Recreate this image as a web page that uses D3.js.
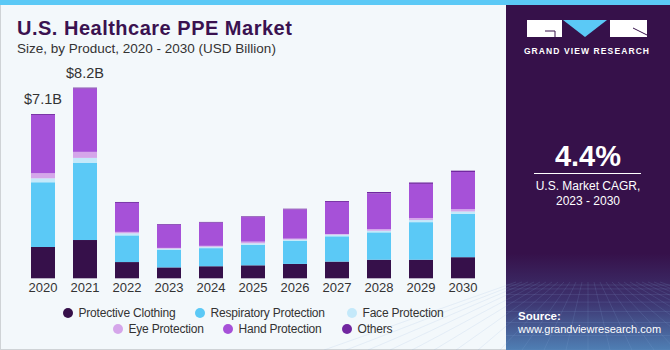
<!DOCTYPE html>
<html>
<head>
<meta charset="utf-8">
<script src="https://cdn.jsdelivr.net/npm/d3@7"></script>
<style>
  body { margin: 0; background: #fff; }
  svg { display: block; font-family: "Liberation Sans", Arial, sans-serif; }
</style>
</head>
<body>
<div id="chart"></div>
<script>
const width = 670
const height = 350

// data (USD Billion)
const years = ["2020","2021","2022","2023","2024","2025","2026","2027","2028","2029","2030"]
const protectiveClothing = [1.35, 1.65, 0.70, 0.47, 0.52, 0.56, 0.62, 0.72, 0.80, 0.80, 0.91]
const respiratory        = [2.79, 3.32, 1.15, 0.75, 0.78, 0.88, 0.99, 1.09, 1.18, 1.62, 1.87]
const faceProtection     = [0.17, 0.22, 0.09, 0.06, 0.06, 0.07, 0.06, 0.07, 0.07, 0.09, 0.10]
const eyeProtection      = [0.22, 0.26, 0.06, 0.03, 0.04, 0.07, 0.04, 0.03, 0.07, 0.09, 0.10]
const handProtection     = [2.51, 2.73, 1.25, 1.00, 1.00, 1.06, 1.26, 1.38, 1.54, 1.47, 1.60]
const others             = [0.04, 0.04, 0.04, 0.03, 0.03, 0.03, 0.03, 0.04, 0.06, 0.06, 0.06]
const seriesNames = ["Protective Clothing","Respiratory Protection","Face Protection","Eye Protection","Hand Protection","Others"]
const colors = ["#36104a","#5bc9f6","#c4e9fa","#d5a6ea","#a651d8","#7127a0"]
const valueLabels = [{year: "2020", text: "$7.1B"}, {year: "2021", text: "$8.2B"}]

const keys = ["pc","resp","face","eye","hand","others"]
const data = years.map((y, i) => ({
    year: y,
    pc: protectiveClothing[i],
    resp: respiratory[i],
    face: faceProtection[i],
    eye: eyeProtection[i],
    hand: handProtection[i],
    others: others[i]
}))

const svg = d3.select("#chart").append("svg").attr("width", width).attr("height", height)

// background + frame
svg.append("rect").attr("x",0).attr("y",0).attr("width",width).attr("height",height).attr("fill","#f3f8fb")
svg.append("rect").attr("x",0.5).attr("y",4).attr("width",506).attr("height",345.5)
    .attr("fill","none").attr("stroke","#cfd3d6")

// right panel
const defs = svg.append("defs")
const grad = defs.append("linearGradient").attr("id","panelGrad").attr("x1",0).attr("y1",0).attr("x2",0).attr("y2",1)
grad.append("stop").attr("offset","0%").attr("stop-color","#36114a")
grad.append("stop").attr("offset","72%").attr("stop-color","#36114a")
grad.append("stop").attr("offset","86%").attr("stop-color","#3d3470")
grad.append("stop").attr("offset","100%").attr("stop-color","#4f7fb4")

const panel = svg.append("g").attr("id","panel")
panel.append("rect").attr("x",506).attr("y",5).attr("width",164).attr("height",345).attr("fill","url(#panelGrad)")

// faint grid in the bottom of the panel
const grid = panel.append("g").attr("stroke","#8fb0dc").attr("stroke-opacity",0.25).attr("stroke-width",0.6).attr("fill","none")
for (let i = 0; i < 9; i++) {
    const yy = 285 + i * i * 0.9 + i * 3
    grid.append("line").attr("x1",506).attr("x2",670).attr("y1",yy).attr("y2",yy)
}
for (let i = -12; i <= 12; i++) {
    grid.append("line").attr("x1",588 + i * 6).attr("y1",282).attr("x2",588 + i * 22).attr("y2",350)
}

// logo
const logo = panel.append("g")
logo.append("rect").attr("x",527).attr("y",20).attr("width",35).attr("height",17).attr("fill","#fff")
logo.append("path").attr("d","M545,31 L555,31 L555,37").attr("stroke","#36114a").attr("stroke-width",1).attr("fill","none")
logo.append("path").attr("d","M563,20 L607,20 L585,37 Z").attr("fill","#5bc9f6")
logo.append("rect").attr("x",610).attr("y",20).attr("width",37).attr("height",17).attr("fill","#fff")
logo.append("path").attr("d","M633,28 L647,35").attr("stroke","#36114a").attr("stroke-width",1)
logo.append("text").attr("x",587).attr("y",54).attr("text-anchor","middle")
    .attr("fill","#fff").attr("font-size",8.5).attr("font-weight","bold").attr("letter-spacing",1.1)
    .text("GRAND VIEW RESEARCH")

panel.append("text").attr("x",588).attr("y",166).attr("text-anchor","middle")
    .attr("fill","#fff").attr("font-size",29).attr("font-weight","bold").text("4.4%")
panel.append("line").attr("x1",534).attr("x2",641).attr("y1",173.5).attr("y2",173.5).attr("stroke","#fff").attr("stroke-width",1)
panel.append("text").attr("x",588).attr("y",190).attr("text-anchor","middle")
    .attr("fill","#fff").attr("font-size",12).text("U.S. Market CAGR,")
panel.append("text").attr("x",588).attr("y",205).attr("text-anchor","middle")
    .attr("fill","#fff").attr("font-size",12).text("2023 - 2030")
panel.append("text").attr("x",518).attr("y",320)
    .attr("fill","#fff").attr("font-size",11.5).attr("font-weight","bold").text("Source:")
panel.append("text").attr("x",518).attr("y",333)
    .attr("fill","#fff").attr("font-size",11).text("www.grandviewresearch.com")

// top stripe
svg.append("rect").attr("x",0).attr("y",0).attr("width",width).attr("height",5).attr("fill","#5bc9f6")

// titles
svg.append("text").attr("x",17).attr("y",35).attr("fill","#3a1250")
    .attr("font-size",20).attr("font-weight","bold").attr("letter-spacing",0.5).text("U.S. Healthcare PPE Market")
svg.append("text").attr("x",17).attr("y",53).attr("fill","#333")
    .attr("font-size",13.5).text("Size, by Product, 2020 - 2030 (USD Billion)")

// scales
const x = d3.scaleBand().domain(years).range([22, 484]).paddingInner(0.4286).paddingOuter(0.2143)
const y = d3.scaleLinear().domain([0, 10]).range([278.3, 46.3])
const color = d3.scaleOrdinal().domain(keys).range(colors)

const stack = d3.stack().keys(keys)(data)

const elementGroup = svg.append("g").attr("id","bars")
elementGroup.selectAll("g").data(stack).join("g")
    .attr("fill", d => color(d.key))
    .selectAll("rect").data(d => d).join("rect")
        .attr("x", d => x(d.data.year))
        .attr("width", x.bandwidth())
        .attr("y", d => y(d[1]))
        .attr("height", d => y(d[0]) - y(d[1]))

// value labels
const totals = new Map(data.map(d => [d.year, d3.sum(keys, k => d[k])]))
svg.append("g").selectAll("text").data(valueLabels).join("text")
    .attr("x", d => x(d.year) + x.bandwidth() / 2)
    .attr("y", d => y(totals.get(d.year)) - 10)
    .attr("text-anchor","middle").attr("fill","#333").attr("font-size",14.5)
    .text(d => d.text)

// x axis
const xAxisGroup = svg.append("g").attr("transform","translate(0,279)")
    .call(d3.axisBottom(x).tickSize(0).tickPadding(4))
xAxisGroup.select(".domain").remove()
xAxisGroup.selectAll("text").attr("font-size",13).attr("fill","#333")
    .attr("font-family","'Liberation Sans', Arial, sans-serif")

// legend
const legendItems = [
    {i: 0, cx: 68, cy: 313}, {i: 1, cx: 200, cy: 313}, {i: 2, cx: 352, cy: 313},
    {i: 3, cx: 118, cy: 329}, {i: 4, cx: 228, cy: 329}, {i: 5, cx: 347, cy: 329}
]
const legend = svg.append("g").selectAll("g").data(legendItems).join("g")
legend.append("circle").attr("cx", d => d.cx).attr("cy", d => d.cy).attr("r", 5)
    .attr("fill", d => colors[d.i])
legend.append("text").attr("x", d => d.cx + 10.5).attr("y", d => d.cy + 4.3)
    .attr("font-size",12).attr("letter-spacing",-0.2).attr("fill","#333")
    .text(d => seriesNames[d.i])
</script>
</body>
</html>
